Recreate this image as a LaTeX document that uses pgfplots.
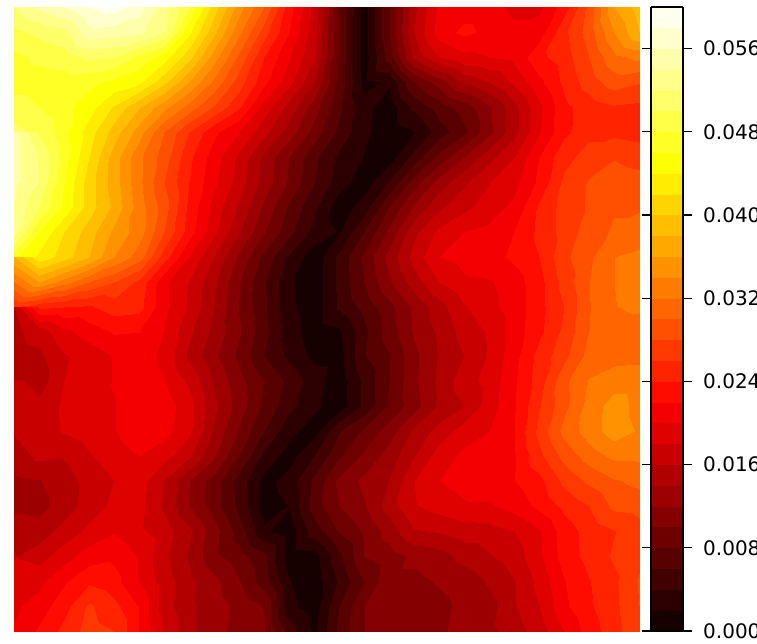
\documentclass[border=0pt]{standalone}
\usepackage{fontspec}
\setmainfont{DejaVu Sans}
\usepackage{pgfplots}
\pgfplotsset{compat=1.18}
\begin{document}
\begin{tikzpicture}
\path[use as bounding box] (-14pt,-12pt) rectangle (743pt,631pt);
\begin{axis}[
at={(0pt,0pt)}, anchor=south west,
scale only axis, width=625pt, height=624pt,
view={0}{90}, hide axis, y dir=reverse,
xmin=0, xmax=25, ymin=0, ymax=25,
colormap={hotbands}{
rgb255=(22,0,0) rgb255=(44,0,0) rgb255=(66,0,0) rgb255=(89,0,0) rgb255=(111,0,0)
rgb255=(133,0,0) rgb255=(156,0,0) rgb255=(178,0,0) rgb255=(200,0,0) rgb255=(223,0,0)
rgb255=(245,0,0) rgb255=(255,12,0) rgb255=(255,35,0) rgb255=(255,57,0) rgb255=(255,79,0)
rgb255=(255,102,0) rgb255=(255,124,0) rgb255=(255,146,0) rgb255=(255,169,0) rgb255=(255,191,0)
rgb255=(255,213,0) rgb255=(255,236,0) rgb255=(255,255,4) rgb255=(255,255,38) rgb255=(255,255,71)
rgb255=(255,255,105) rgb255=(255,255,138) rgb255=(255,255,171) rgb255=(255,255,205) rgb255=(255,255,238)
},
colormap access=piecewise constant,
point meta min=0, point meta max=60,
colorbar,
colorbar style={
  at={(1.0192,0)}, anchor=south west,
  width=32pt, height=624pt,
  y dir=normal,
  ymin=0, ymax=60,
  ytick={0,8,16,24,32,40,48,56},
  yticklabels={0.000,0.008,0.016,0.024,0.032,0.040,0.048,0.056},
  tick align=outside, major tick length=9pt,
  ytick style={black, line width=1.1pt},
  axis line style={black, line width=1.5pt},
  yticklabel style={font=\fontsize{20}{24}\selectfont, inner sep=0pt, xshift=11pt, anchor=west},
},
]
\addplot3[surf, shader=interp, mesh/ordering=x varies, mesh/cols=26]
table[row sep=\\, header=false, x expr={mod(\coordindex,26)}, y expr={floor(\coordindex/26)}, z index=0] {
52\\54.5\\56\\58\\59\\57\\53\\48\\41\\35\\30\\23\\17.4\\8\\1\\8\\15.5\\20.5\\21\\21\\19.5\\19.5\\23\\28.5\\36\\39\\
49.5\\50.5\\51.5\\55.5\\55\\54.5\\52\\44.5\\38.5\\32.5\\27\\22\\17\\7.8\\1\\8\\16\\21\\22.5\\21.5\\20.5\\21\\25.5\\29\\34\\38\\
47.5\\48.5\\49\\50.5\\50\\47.5\\45\\40.7\\35\\29.5\\24\\20.2\\16.2\\7.7\\1\\7\\14.5\\18\\19.5\\20\\20.5\\23.5\\25\\28\\31.5\\32.5\\
47\\47\\47\\46.5\\45.5\\44.5\\40.6\\36\\31.5\\27\\22.6\\18.7\\14.2\\7.4\\1.5\\2.3\\8\\11\\14.5\\16\\18.5\\21.5\\24.5\\27\\29\\28.2\\
49\\48\\46.5\\45\\41.7\\38.2\\34.7\\31.2\\27.8\\24.3\\19.1\\15.2\\11\\6.4\\2.6\\1\\4.5\\7\\9\\11.7\\15.3\\19.5\\23.5\\25\\25.8\\25.5\\
50.5\\49.7\\46.5\\43\\39\\35\\30\\26\\22.5\\20\\16.7\\13\\9.2\\5.5\\2.4\\0.8\\1.9\\5\\7.5\\11.5\\15.3\\19.8\\23.5\\25.5\\25.5\\25\\
55\\51.8\\47\\42\\37\\32.5\\29\\24.5\\21\\17.5\\13.5\\10\\6.5\\3.5\\1.9\\1\\4.7\\8.7\\12\\15.3\\18\\22\\25.4\\26.8\\27.9\\27.5\\
55\\52\\46\\41\\37\\32.5\\28\\24\\20.5\\17\\13.2\\9.7\\6.1\\3\\0.8\\4.2\\9\\12.8\\15.6\\17.9\\19.3\\22.5\\26.4\\28.2\\28.7\\28.5\\
54.5\\50\\45.5\\41\\37.5\\33\\29\\23.5\\19.2\\15.6\\11.6\\7.7\\4.4\\0.8\\3\\8\\12.4\\15.6\\17.4\\19\\20.5\\24.3\\26.8\\28.3\\29.8\\29.8\\
53\\46\\42\\39\\35.5\\33\\28\\23\\18.5\\14.2\\10.2\\6.6\\3.3\\1.9\\6\\10.5\\15.5\\18.5\\20\\20.5\\22\\24.5\\26.8\\29\\30.3\\30.8\\
46.5\\43.5\\41\\38\\34\\31\\25\\19.9\\15.9\\11.6\\7.4\\3.7\\0.7\\4.5\\8.5\\12.7\\16.8\\20\\20.8\\21.3\\22.4\\24\\27.5\\29.6\\32\\32.5\\
38\\36\\33\\30\\28\\25.5\\20.5\\17.9\\14.4\\10.2\\6.2\\2.4\\0.7\\4.5\\8\\11.7\\15\\18\\19.6\\19.8\\21\\23.3\\26.8\\30\\32\\33\\
26\\24.5\\24\\23.7\\25\\24.7\\20.5\\17.6\\14\\9.9\\6.4\\2.5\\0.8\\4.3\\6.7\\9.3\\12.5\\15.2\\17.8\\19.4\\20.9\\23.3\\26\\29.9\\31.9\\32.5\\
16\\17\\19.5\\21\\22.3\\22.1\\20\\16.5\\13.4\\10.3\\6.7\\3\\0.8\\1.7\\5.5\\9\\12.3\\14.4\\16.8\\18.3\\20.9\\23.5\\26.5\\30\\30.8\\30.5\\
15\\15.5\\17.8\\18.8\\20.1\\21\\19.5\\15.5\\12.5\\9.5\\6\\3.5\\1.5\\1.3\\5.8\\7.9\\11.5\\14.2\\16\\18.2\\21.3\\24.7\\27.4\\30.8\\31.3\\31.5\\
14.5\\14.8\\18\\19\\20.1\\21.2\\20.1\\17.6\\13.8\\10.7\\8\\5.4\\2.9\\0.8\\4.5\\8\\11.6\\14.5\\17.2\\18.7\\21.7\\25\\29.5\\32.2\\33\\33\\
16.7\\16.8\\18.3\\19.5\\19.9\\21.5\\21\\18.9\\14.5\\11\\7.5\\4.6\\2.4\\1\\4.5\\8.3\\11.2\\14.3\\16\\19\\21.8\\25.8\\29.4\\32.8\\35\\33.3\\
17\\17\\18.2\\19\\19.9\\21.3\\20.7\\18.5\\13.7\\9.7\\6\\2.6\\1.1\\5.8\\8.4\\11\\14.5\\16.8\\19\\20\\22\\26.6\\30.7\\33\\35\\33.8\\
16.2\\16.5\\16.2\\17.8\\19\\20\\18.7\\16.4\\12.3\\7.9\\3.4\\1.1\\4\\7.7\\10.5\\12.9\\15.9\\19\\20.5\\21\\21.8\\25.4\\28.7\\31\\32.5\\32.5\\
13.5\\13.9\\15\\16.8\\18\\19\\15.9\\12.1\\9\\5.2\\1.3\\2.8\\6.5\\10.5\\12.5\\14.1\\18\\20\\20.8\\21.5\\21.9\\23.4\\26.5\\28.4\\29.8\\30.5\\
13.2\\13.4\\14.9\\17\\18.5\\18.7\\15.7\\12\\9\\5.4\\1\\2.1\\7\\10\\11.8\\15\\17.8\\18.8\\19.7\\19.7\\20.8\\22.5\\24.5\\26\\28.5\\28.8\\
13.7\\14.8\\16.8\\18.5\\19.8\\18.4\\17\\14.4\\10.8\\7\\2.4\\0.9\\5\\8.2\\10.3\\12.9\\15.8\\16.2\\17\\17.2\\18\\19.8\\23\\24.8\\25.9\\27.2\\
15.8\\17.2\\19.1\\21\\21.6\\19.8\\16.5\\13.7\\10.5\\8.8\\6.5\\0.9\\1.2\\5.5\\10\\11.1\\12.5\\13.2\\14.7\\15.8\\17\\19.6\\22.9\\24.7\\26.3\\27.5\\
17.9\\19.4\\21.7\\23.6\\22.7\\19.9\\17\\14.6\\12.6\\10.1\\7\\2.1\\0.8\\4.3\\8\\11.5\\11.5\\12.2\\12.8\\14.3\\15.9\\18.6\\21.9\\23.9\\25.6\\28.2\\
19.6\\21\\23.2\\26.3\\24.6\\21.9\\17\\14.4\\12.9\\11.5\\9.9\\2.5\\0.9\\6\\10\\10.8\\11\\11.5\\12.5\\13.2\\15.8\\18\\21.6\\23.7\\25.5\\28\\
20.2\\22.3\\24.6\\26.8\\26\\22\\17.8\\14.4\\12.8\\11.2\\10.2\\5\\1.5\\6.6\\10\\10.8\\11\\11.7\\12.6\\13.5\\15\\17\\20\\23\\25.2\\27.7\\
};
\end{axis}
\end{tikzpicture}
\end{document}
